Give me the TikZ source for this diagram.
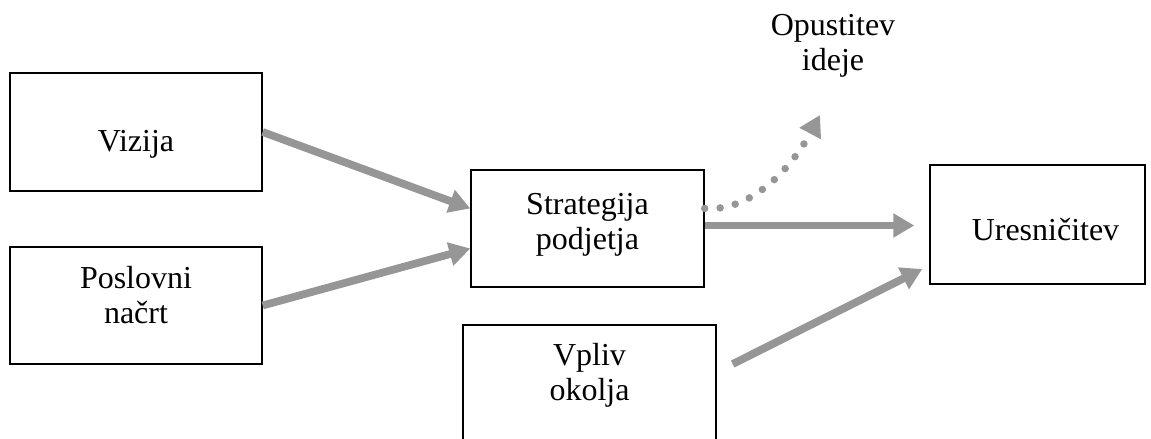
\documentclass[tikz,border=0pt]{standalone}
\usepackage{fontspec}
\setmainfont{Liberation Serif}
\usepackage{xcolor}
\usetikzlibrary{positioning,arrows.meta}
\definecolor{arrowgray}{RGB}{150,150,150}

\begin{document}
\begin{tikzpicture}[
	box/.style={draw,line width=0.8pt,inner sep=0pt,align=center,
		font=\fontsize{18.2pt}{20pt}\selectfont},
	arr/.style={arrowgray,line width=0.155cm,
		-{Triangle[length=0.42cm,width=0.46cm]}}]
		
		\useasboundingbox (0,0) rectangle (23.02,-8.78);
		
		\node[box,minimum width=5.04cm,minimum height=2.36cm,
		text height=0.92cm] (V)
		at (2.72,-2.64)
		{Vizija};
		
		\node[box,minimum width=5.04cm,minimum height=2.34cm,
		text depth=0.44cm] (N)
		at (2.72,-6.11)
		{Poslovni\\načrt};
		
		\node[box,minimum width=4.66cm,minimum height=2.34cm,
		text depth=0.3cm] (S)
		at (11.75,-4.57)
		{Strategija\\podjetja};
		
		\node[box,minimum width=5.06cm,minimum height=2.7cm,
		text depth=0.82cm] (O)
		at (11.79,-7.85)
		{Vpliv\\okolja};
		
		\node[box,minimum width=4.3cm,minimum height=2.38cm,
		text height=0.66cm] (U)
		at (20.75,-4.49)
		{\hspace*{0.32cm}Uresničitev};
		
		\node[align=center,inner sep=0pt,
		font=\fontsize{18.2pt}{20pt}\selectfont] (I)
		at (16.66,-0.92)
		{Opustitev\\ideje};
		
		\coordinate (drop) at (16.4,-2.3);
		
		\draw[arr]
		(V.east)--
		([yshift=0.4cm]S.west);
		
		\draw[arr]
		(N.east)--
		([yshift=-0.4cm]S.west);
		
		\draw[arr,shorten >=0.3cm]
		([yshift=0.06cm]S.east)--
		([yshift=0.06cm]S.east -| U.west);
		
		\draw[arr]
		([xshift=0.32cm,yshift=0.57cm]O.east)--
		([xshift=-0.14cm,yshift=-0.89cm]U.west);
		
		\draw[arr,line width=0.15cm,line cap=round,
		dash pattern=on 0pt off 0.31cm]
		([yshift=0.4cm]S.east)
		.. controls (15.1,-4.24) and (15.9,-3.24) ..
		(drop);
		
	\end{tikzpicture}
\end{document}
